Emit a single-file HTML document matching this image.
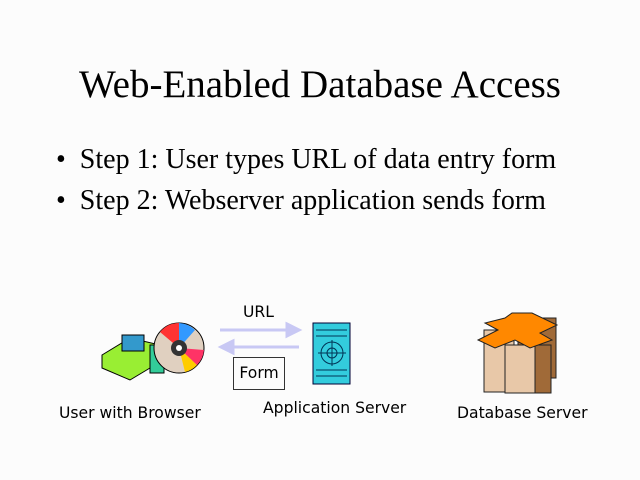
<!DOCTYPE html>
<html><head><style>
body{margin:0;width:640px;height:480px;background:#fcfcfc;position:relative;overflow:hidden;font-family:"Liberation Serif",serif}
.t{position:absolute;left:0;width:640px;text-align:center;top:62px;font-size:39px}
.b{position:absolute;left:56px;font-size:28px}
.l{position:absolute;font-family:"DejaVu Sans","Liberation Sans",sans-serif;font-size:15.6px;white-space:nowrap}
</style></head><body>
<div class="t">Web-Enabled Database Access</div>
<div class="b" style="top:144px">•&nbsp; Step 1: User types URL of data entry form</div>
<div class="b" style="top:185px">•&nbsp; Step 2: Webserver application sends form</div>
<div class="l" style="left:243px;top:303px">URL</div>
<div class="l" style="left:233px;top:357px;width:50px;height:31px;border:1px solid #333;line-height:31px;text-align:center">Form</div>
<div class="l" style="left:59px;top:404px">User with Browser</div>
<div class="l" style="left:263px;top:399px">Application Server</div>
<div class="l" style="left:457px;top:404px">Database Server</div>
<svg width="640" height="480" style="position:absolute;left:0;top:0">
<g stroke="#c8c8f4" stroke-width="3" fill="#c8c8f4">
<line x1="220" y1="330" x2="290" y2="330"/><polygon points="287,324 299,330 287,336"/>
<line x1="230" y1="347" x2="299" y2="347"/><polygon points="233,341 221,347 233,353"/>
</g>
<polygon points="102,355 130,338 160,345 160,362 130,380 102,368" fill="#99ee33" stroke="#000"/>
<rect x="122" y="335" width="22" height="16" fill="#3399cc" stroke="#000"/>
<rect x="150" y="345" width="14" height="28" fill="#33cc99" stroke="#000"/>
<circle cx="179" cy="348" r="25" fill="#e0d0c0" stroke="#000"/>
<path d="M179 348 L160 332 A25 25 0 0 1 179 323Z" fill="#ff3333"/>
<path d="M179 348 L179 323 A25 25 0 0 1 195 330Z" fill="#3399ff"/>
<path d="M179 348 L197 365 A25 25 0 0 1 185 372Z" fill="#ffcc00"/>
<path d="M179 348 L204 350 A25 25 0 0 1 197 365Z" fill="#ff3366"/>
<circle cx="179" cy="348" r="8" fill="#333"/><circle cx="179" cy="348" r="3" fill="#fff"/>
<rect x="313" y="323" width="37" height="61" fill="#33ccdd" stroke="#003"/>
<g stroke="#035" stroke-width="1">
<line x1="316" y1="330" x2="347" y2="330"/><line x1="316" y1="336" x2="347" y2="336"/><line x1="316" y1="370" x2="347" y2="370"/><line x1="316" y1="376" x2="347" y2="376"/>
<circle cx="332" cy="353" r="11" fill="none"/><circle cx="332" cy="353" r="5" fill="none"/>
<line x1="318" y1="353" x2="346" y2="353"/><line x1="332" y1="340" x2="332" y2="366"/>
</g>
<g stroke="#222">
<rect x="518" y="318" width="38" height="60" fill="#a06a38"/>
<rect x="484" y="330" width="30" height="62" fill="#e8c8a8"/>
<rect x="505" y="345" width="30" height="48" fill="#e8c8a8"/>
<rect x="535" y="345" width="16" height="48" fill="#a06a38"/>
<polygon points="512,313 532,313 557,325 540,333 552,340 530,348 515,340 495,348 478,340 498,330 485,323 505,318" fill="#ff8800"/>
</g>
</svg>
</body></html>
